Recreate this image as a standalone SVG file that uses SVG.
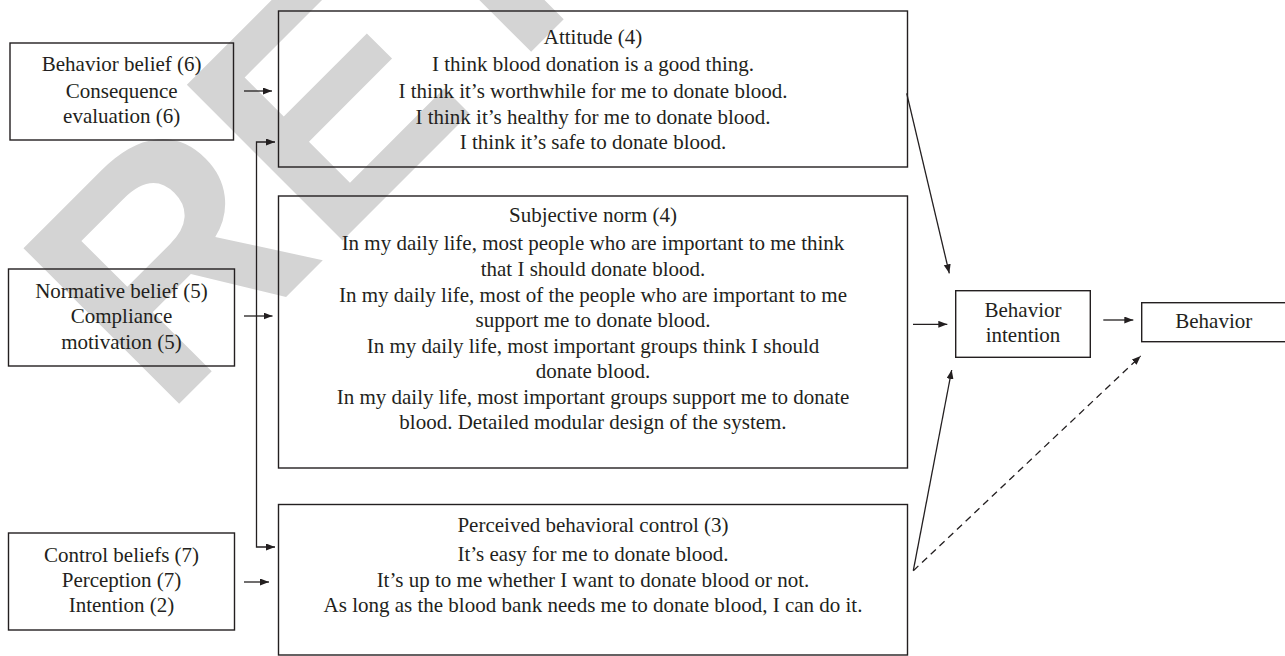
<svg xmlns="http://www.w3.org/2000/svg" width="1285" height="656" viewBox="0 0 1285 656">
<style>
.wm{font-family:"Liberation Sans",Arial,sans-serif;font-weight:bold;font-size:320px;fill:#d4d4d4}
.box{fill:none;stroke:#231f20;stroke-width:1.4}
.t{font-family:"Liberation Serif","Times New Roman",serif;font-size:21px;fill:#231f20;text-anchor:middle}
.c{fill:none;stroke:#231f20;stroke-width:1.3}
.d{stroke-dasharray:7 5}
</style>
<defs>
<marker id="ah" markerUnits="userSpaceOnUse" markerWidth="10" markerHeight="8" refX="9" refY="3.5" orient="auto-start-reverse" viewBox="0 0 10 8">
<path d="M0,0 L9,3.5 L0,7 z" fill="#231f20"/>
</marker>
</defs>
<rect width="1285" height="656" fill="#ffffff"/>
<text class="wm" transform="translate(164,419) rotate(-45)">RETRACTED</text>

<g id="behavior-belief">
<rect class="box" x="10" y="43" width="223.5" height="97"/>
<text class="t" x="121.7" y="70.5">Behavior belief (6)</text>
<text class="t" x="121.7" y="97.5">Consequence</text>
<text class="t" x="121.7" y="122.5">evaluation (6)</text>
</g>
<g id="normative-belief">
<rect class="box" x="8.5" y="269" width="226" height="97"/>
<text class="t" x="121.5" y="297.5">Normative belief (5)</text>
<text class="t" x="121.5" y="322.5">Compliance</text>
<text class="t" x="121.5" y="348.5">motivation (5)</text>
</g>
<g id="control-beliefs">
<rect class="box" x="8.5" y="533" width="226" height="97"/>
<text class="t" x="121.5" y="561.5">Control beliefs (7)</text>
<text class="t" x="121.5" y="586.5">Perception (7)</text>
<text class="t" x="121.5" y="611.5">Intention (2)</text>
</g>
<g id="attitude">
<rect class="box" x="278.5" y="11" width="629" height="156"/>
<text class="t" x="593" y="43.5">Attitude (4)</text>
<text class="t" x="593" y="70.5">I think blood donation is a good thing.</text>
<text class="t" x="593" y="97.5">I think it’s worthwhile for me to donate blood.</text>
<text class="t" x="593" y="123.5">I think it’s healthy for me to donate blood.</text>
<text class="t" x="593" y="148.5">I think it’s safe to donate blood.</text>
</g>
<g id="subjective-norm">
<rect class="box" x="278.5" y="196" width="629" height="272"/>
<text class="t" x="593" y="221.5">Subjective norm (4)</text>
<text class="t" x="593" y="249.5">In my daily life, most people who are important to me think</text>
<text class="t" x="593" y="276">that I should donate blood.</text>
<text class="t" x="593" y="301.5">In my daily life, most of the people who are important to me</text>
<text class="t" x="593" y="327">support me to donate blood.</text>
<text class="t" x="593" y="352.5">In my daily life, most important groups think I should</text>
<text class="t" x="593" y="378">donate blood.</text>
<text class="t" x="593" y="403.5">In my daily life, most important groups support me to donate</text>
<text class="t" x="593" y="428.5">blood. Detailed modular design of the system.</text>
</g>
<g id="perceived-behavioral-control">
<rect class="box" x="278.5" y="504.5" width="629" height="150.5"/>
<text class="t" x="593" y="531.5">Perceived behavioral control (3)</text>
<text class="t" x="593" y="561">It’s easy for me to donate blood.</text>
<text class="t" x="593" y="587">It’s up to me whether I want to donate blood or not.</text>
<text class="t" x="593" y="612">As long as the blood bank needs me to donate blood, I can do it.</text>
</g>
<g id="behavior-intention">
<rect class="box" x="955.7" y="290.7" width="134.6" height="66.6"/>
<text class="t" x="1023" y="316.5">Behavior</text>
<text class="t" x="1023" y="341.5">intention</text>
</g>
<g id="behavior">
<rect class="box" x="1141.7" y="302.7" width="150" height="39"/>
<text class="t" x="1213.8" y="328">Behavior</text>
</g>

<g id="connectors">
<line class="c" x1="244" y1="91" x2="272" y2="91" marker-end="url(#ah)"/>
<line class="c" x1="244" y1="316" x2="272.5" y2="316" marker-end="url(#ah)"/>
<path class="c" d="M275,142 H256.5 V547 H275" marker-start="url(#ah)" marker-end="url(#ah)"/>
<line class="c" x1="244" y1="582" x2="269" y2="582" marker-end="url(#ah)"/>
<line class="c" x1="906.7" y1="93.3" x2="949.3" y2="273.3" marker-end="url(#ah)"/>
<line class="c" x1="913" y1="324.3" x2="947.3" y2="324.3" marker-end="url(#ah)"/>
<line class="c" x1="913.3" y1="570.7" x2="951.7" y2="370" marker-end="url(#ah)"/>
<line class="c d" x1="913.3" y1="570.7" x2="1140.7" y2="356" marker-end="url(#ah)"/>
<line class="c" x1="1103.3" y1="320" x2="1133.3" y2="320" marker-end="url(#ah)"/>
</g>
</svg>
